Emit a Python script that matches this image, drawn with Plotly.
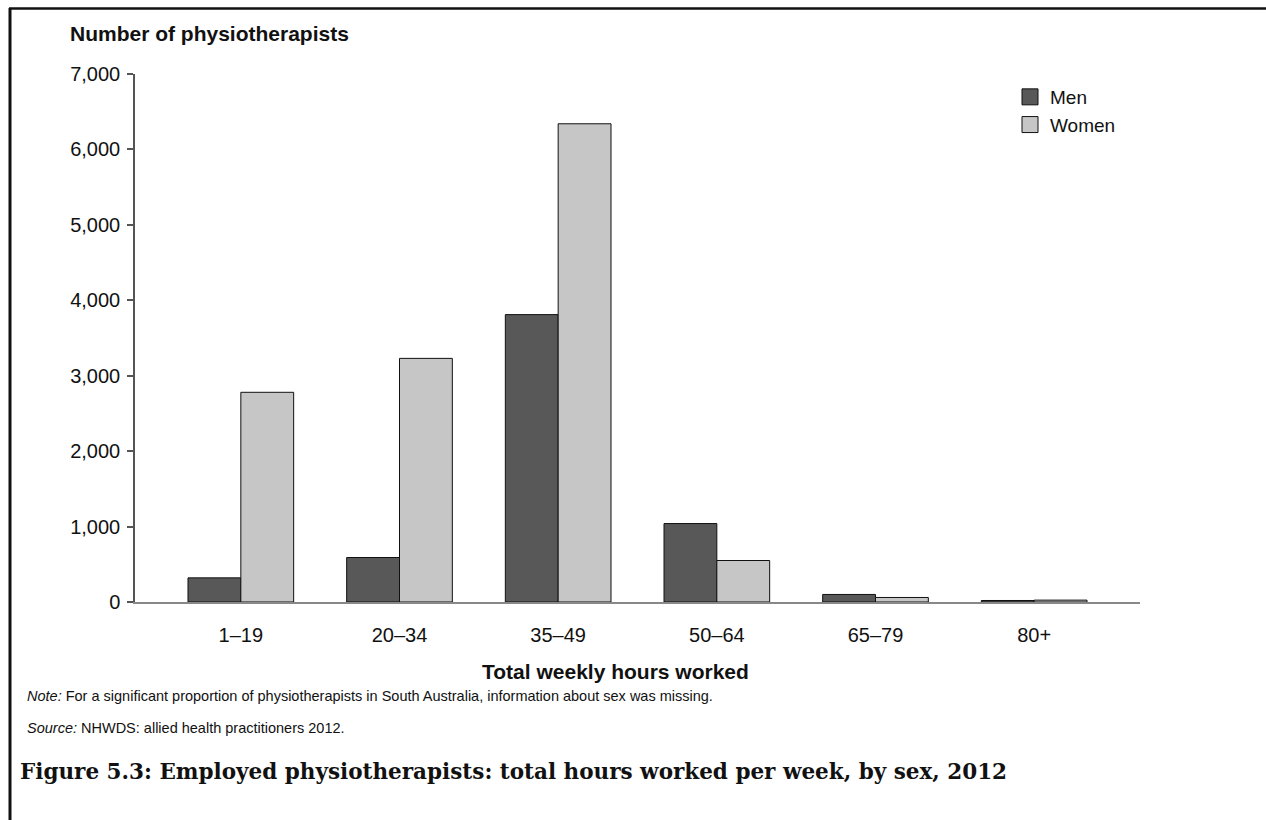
import plotly.graph_objects as go

categories = ["1–19", "20–34", "35–49", "50–64", "65–79", "80+"]
men = [320, 590, 3810, 1040, 100, 20]
women = [2780, 3230, 6340, 550, 60, 25]
y_ticks = [0, 1000, 2000, 3000, 4000, 5000, 6000, 7000]

MEN_COLOR = "#585858"
WOMEN_COLOR = "#c6c6c6"
FONT = "Liberation Sans, Arial, sans-serif"

W, H = 1266, 820
L, R, T, B = 135, 126, 74, 218
PW, PH = W - L - R, H - T - B


def px_x(px):
    return (px - L) / PW


def px_y(py):
    return (H - B - py) / PH


fig = go.Figure()
fig.add_trace(go.Bar(x=categories, y=men, name="Men", marker=dict(color=MEN_COLOR, line=dict(color="#111", width=1)),
                     showlegend=False))
fig.add_trace(go.Bar(x=categories, y=women, name="Women", marker=dict(color=WOMEN_COLOR, line=dict(color="#111", width=1)),
                     showlegend=False))
# legend entries with larger square swatches
fig.add_trace(go.Scatter(x=[None], y=[None], mode="markers", name="Men",
                         marker=dict(symbol="square", size=16, color=MEN_COLOR, line=dict(color="#111", width=1))))
fig.add_trace(go.Scatter(x=[None], y=[None], mode="markers", name="Women",
                         marker=dict(symbol="square", size=16, color=WOMEN_COLOR, line=dict(color="#111", width=1))))

fig.update_layout(
    width=W, height=H,
    margin=dict(l=L, r=R, t=T, b=B, autoexpand=False),
    paper_bgcolor="white", plot_bgcolor="white",
    barmode="group", bargap=0.334, bargroupgap=0,
    font=dict(family=FONT, size=20, color="#111"),
    legend=dict(x=px_x(1010), y=px_y(78), xanchor="left", yanchor="top",
                font=dict(family=FONT, size=19, color="#111"),
                bgcolor="rgba(0,0,0,0)", tracegroupgap=0, itemsizing="trace"),
    xaxis=dict(type="category", range=[-0.667, 5.667], showline=True, linecolor="#888", linewidth=2,
               ticks="", showgrid=False, zeroline=False, ticklabelstandoff=14,
               tickfont=dict(family=FONT, size=20, color="#111")),
    yaxis=dict(range=[0, 7000], tickvals=y_ticks, tickformat=",", showline=True, linecolor="#555", linewidth=1.5,
               ticks="outside", ticklen=6, tickcolor="#555", tickwidth=1.5, showgrid=False, zeroline=False,
               ticklabelstandoff=3, tickfont=dict(family=FONT, size=20, color="#111")),
)

annotations = [
    dict(text="<b>Number of physiotherapists</b>", x=px_x(68), y=px_y(33), xanchor="left", yanchor="middle",
         font=dict(family=FONT, size=21, color="#111")),
    dict(text="<b>Total weekly hours worked</b>", x=px_x(615), y=px_y(671), xanchor="center", yanchor="middle",
         font=dict(family=FONT, size=21, color="#111")),
    dict(text="<i>Note:</i> For a significant proportion of physiotherapists in South Australia, information about sex was missing.",
         x=px_x(25), y=px_y(696), xanchor="left", yanchor="middle", font=dict(family=FONT, size=14.5, color="#111")),
    dict(text="<i>Source:</i> NHWDS: allied health practitioners 2012.",
         x=px_x(25), y=px_y(728), xanchor="left", yanchor="middle", font=dict(family=FONT, size=14.5, color="#111")),
    dict(text="<b>Figure 5.3: Employed physiotherapists: total hours worked per week, by sex, 2012</b>",
         x=px_x(18), y=px_y(771), xanchor="left", yanchor="middle",
         font=dict(family="DejaVu Serif, Liberation Serif, serif", size=21.5, color="#111")),
]
for a in annotations:
    a.update(xref="paper", yref="paper", showarrow=False)
    fig.add_annotation(**a)

fig.add_shape(type="line", xref="paper", yref="paper", x0=px_x(9), x1=px_x(1266), y0=px_y(8.5), y1=px_y(8.5),
              line=dict(color="#111", width=2.5))
fig.add_shape(type="line", xref="paper", yref="paper", x0=px_x(10), x1=px_x(10), y0=px_y(8), y1=px_y(820),
              line=dict(color="#111", width=3))

fig.write_html("out.html", config={"displayModeBar": False},
               post_script="document.body.style.margin='0';document.body.style.overflow='hidden';")
